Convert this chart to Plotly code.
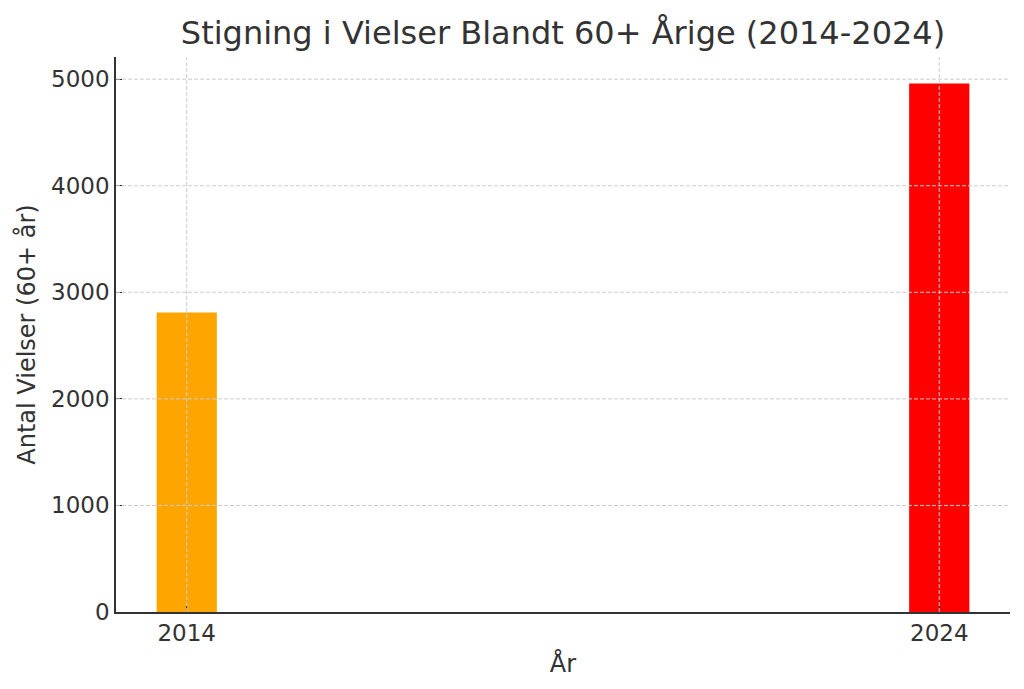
import plotly.graph_objects as go

# data
years = [2014, 2024]
vielser = [2810, 4960]
bar_colors = ['#FFA500', '#FF0000']
y_ticks = [0, 1000, 2000, 3000, 4000, 5000]

TXT = '#333333'
GRID = '#cccccc'

fig = go.Figure()
fig.add_trace(go.Bar(x=years, y=vielser, width=0.8, marker=dict(color=bar_colors, line=dict(width=0))))

# matplotlib draws its grid over the bars, plotly puts it under, so use shapes
for yv in y_ticks[1:]:
    fig.add_shape(type='line', xref='paper', x0=0, x1=1, yref='y', y0=yv, y1=yv,
                  line=dict(color=GRID, width=1, dash='4px,2px'), layer='above')
for xv in years:
    fig.add_shape(type='line', xref='x', x0=xv, x1=xv, yref='paper', y0=0, y1=1,
                  line=dict(color=GRID, width=1, dash='4px,2px'), layer='above')

# page body has an 8px margin, so the figure is a bit smaller than the window
fig.update_layout(
    width=1016, height=681,
    margin=dict(l=108, r=14, t=49, b=77),
    paper_bgcolor='white', plot_bgcolor='white',
    font=dict(family='DejaVu Sans', color=TXT, size=23),
    title=dict(text='Stigning i Vielser Blandt 60+ Årige (2014-2024)', xref='paper', x=0.5, xanchor='center',
               yref='container', y=0.963, yanchor='middle', font=dict(size=32, color=TXT)),
    showlegend=False,
)
fig.update_xaxes(
    range=[2013.06, 2024.94], tickvals=years, ticktext=[str(y) for y in years],
    showgrid=False, zeroline=False, showline=True, linecolor=TXT, linewidth=1.5,
    ticks='inside', ticklen=6, tickcolor=TXT, tickwidth=1.2, layer='above traces',
    title=dict(text='År', standoff=10, font=dict(size=24)),
)
fig.update_yaxes(
    range=[0, 5208], tickvals=y_ticks,
    showgrid=False, zeroline=False, showline=True, linecolor=TXT, linewidth=1.5,
    ticks='inside', ticklen=6, tickcolor=TXT, tickwidth=1.2, layer='above traces',
    title=dict(text='Antal Vielser (60+ år)', standoff=9, font=dict(size=24)),
)

fig.write_html('out.html')
